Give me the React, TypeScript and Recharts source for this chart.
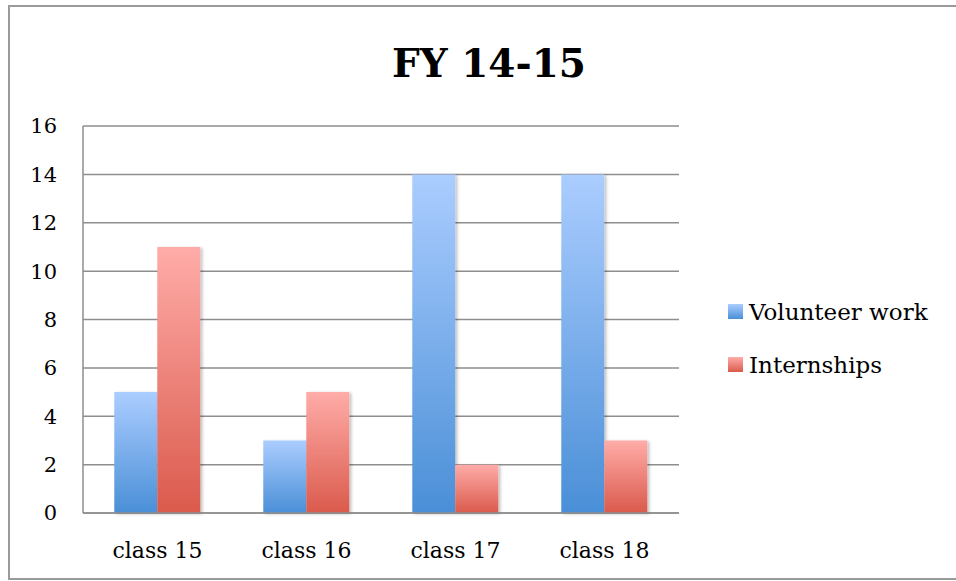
import React from "react";
import { BarChart, Bar, XAxis, YAxis, CartesianGrid } from "recharts";

const categories = ["class 15", "class 16", "class 17", "class 18"];
const volunteerWork = [5, 3, 14, 14];
const internships = [11, 5, 2, 3];
const yTicks = [0, 2, 4, 6, 8, 10, 12, 14, 16];
const seriesNames = ["Volunteer work", "Internships"];
const title = "FY 14-15";

const data = categories.map((c, i) => ({
  name: c,
  volunteer: volunteerWork[i],
  intern: internships[i],
}));

const FONT = "'DejaVu Serif', 'Liberation Serif', serif";
const GRID = "#8e8e8e";

export default function App() {
  return (
    <div style={{ position: "absolute", left: 0, top: 0, width: 956, height: 581, background: "#fff", overflow: "hidden" }}>
      <div
        style={{
          position: "absolute",
          left: 8,
          top: 5,
          width: 960,
          height: 575,
          border: "2px solid #9a9a9a",
          borderRight: "none",
          boxSizing: "border-box",
        }}
      >
        <BarChart
          width={946}
          height={571}
          data={data}
          margin={{ top: 119, right: 277, bottom: 0, left: 0 }}
          barGap={0}
          barCategoryGap="21%"
        >
          <defs>
            <linearGradient id="gBlue" x1="0" y1="0" x2="0" y2="1">
              <stop offset="0%" stopColor="#abcdff" />
              <stop offset="100%" stopColor="#4a8fd7" />
            </linearGradient>
            <linearGradient id="gRed" x1="0" y1="0" x2="0" y2="1">
              <stop offset="0%" stopColor="#ffaca8" />
              <stop offset="100%" stopColor="#da5a4c" />
            </linearGradient>
            <filter id="shadow" x="-20%" y="-5%" width="150%" height="115%">
              <feDropShadow dx="2" dy="1" stdDeviation="1.5" floodColor="#000" floodOpacity="0.25" />
            </filter>
          </defs>
          <CartesianGrid vertical={false} stroke={GRID} strokeWidth={1.5} />
          <XAxis
            dataKey="name"
            height={65}
            axisLine={{ stroke: GRID, strokeWidth: 1.5 }}
            tickLine={false}
            tickSize={6}
            tickMargin={23}
            tick={{ fill: "#000", fontSize: 22, fontFamily: FONT }}
          />
          <YAxis
            width={73}
            domain={[0, 16]}
            ticks={yTicks}
            interval={0}
            axisLine={{ stroke: GRID, strokeWidth: 1.5 }}
            tickLine={false}
            tickSize={6}
            tickMargin={20}
            tick={{ fill: "#000", fontSize: 21, fontFamily: FONT }}
          />
          <Bar dataKey="volunteer" name={seriesNames[0]} fill="url(#gBlue)" filter="url(#shadow)" isAnimationActive={false} />
          <Bar dataKey="intern" name={seriesNames[1]} fill="url(#gRed)" filter="url(#shadow)" isAnimationActive={false} />
        </BarChart>
      </div>
      <svg style={{ position: "absolute", left: 0, top: 0 }} width={956} height={581} pointerEvents="none">
        <defs>
          <linearGradient id="lBlue" x1="0" y1="0" x2="0" y2="1">
            <stop offset="0%" stopColor="#abcdff" />
            <stop offset="100%" stopColor="#4a8fd7" />
          </linearGradient>
          <linearGradient id="lRed" x1="0" y1="0" x2="0" y2="1">
            <stop offset="0%" stopColor="#ffaca8" />
            <stop offset="100%" stopColor="#da5a4c" />
          </linearGradient>
        </defs>
        <text x={489} y={77} textAnchor="middle" fontFamily={FONT} fontWeight="bold" fontSize={39} fill="#000">
          {title}
        </text>
        <rect x={728} y={304} width={15} height={15} fill="url(#lBlue)" />
        <text x={749} y={320} fontFamily={FONT} fontSize={23} fill="#000">{seriesNames[0]}</text>
        <rect x={728} y={357} width={15} height={15} fill="url(#lRed)" />
        <text x={749} y={373} fontFamily={FONT} fontSize={23} fill="#000">{seriesNames[1]}</text>
      </svg>
    </div>
  );
}
